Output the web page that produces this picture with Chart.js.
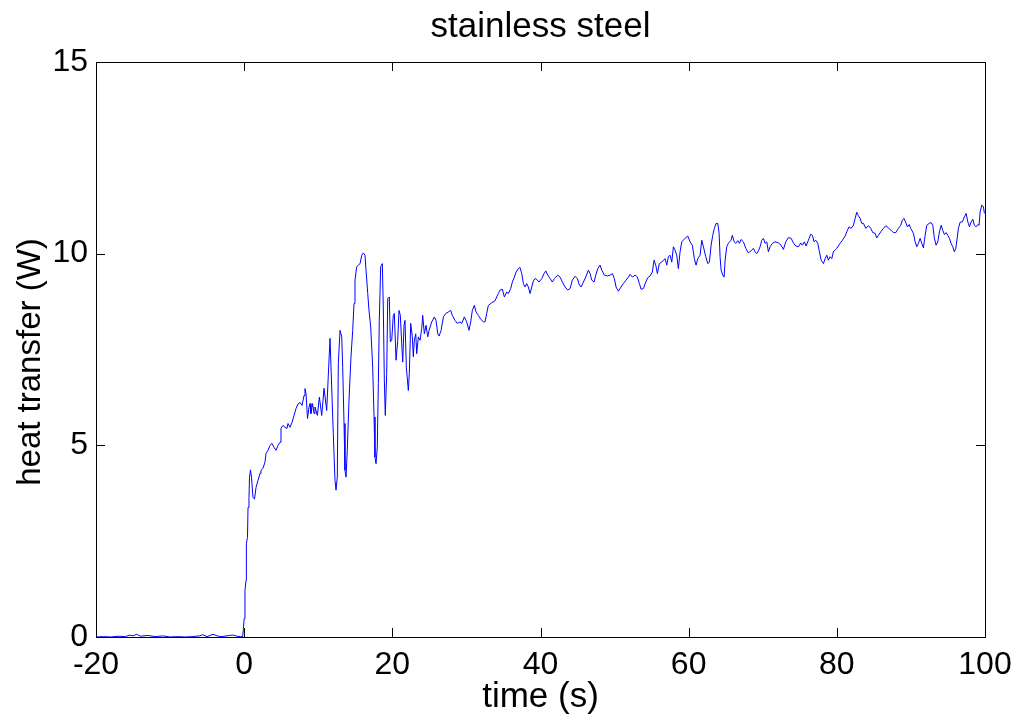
<!DOCTYPE html>
<html>
<head>
<meta charset="utf-8">
<title>stainless steel</title>
<script src="https://cdn.jsdelivr.net/npm/chart.js@4.4.1/dist/chart.umd.min.js"></script>
<style>
	html, body {margin: 0; padding: 0; background: #fff;}
	#chart {display: block;}
</style>
</head>
<body>
<canvas id="chart" width="1027" height="718"></canvas>
<script>
// heat transfer run, stainless steel sample

var chartTitle = 'stainless steel';
var xLabel = 'time (s)';
var yLabel = 'heat transfer (W)';

var xTicks = [-20, 0, 20, 40, 60, 80, 100];
var yTicks = [0, 5, 10, 15];

// time (s)
var time = [
	-20, -19, -18, -17, -16, -15.5, -15, -14.5, -14, -13,
	-12, -11, -10, -9, -8, -7, -6, -5.6, -5, -4.2,
	-3.5, -3, -2, -1.5, -1, -0.5, -0.2, -0.1, 0, 0.11,
	0.25, 0.3, 0.45, 0.52, 0.65, 0.72, 0.85, 0.99, 1.19, 1.4,
	1.6, 1.87, 2.14, 2.27, 2.54, 2.81, 2.95, 3.22, 3.49, 3.76,
	4.03, 4.3, 4.57, 4.84, 4.97, 5.24, 5.51, 5.78, 5.92, 6.19,
	6.46, 6.73, 7.0, 7.27, 7.54, 7.81, 8.08, 8.21, 8.35, 8.55,
	8.75, 8.89, 9.02, 9.23, 9.43, 9.56, 9.88, 10.15, 10.47, 10.78,
	11.14, 11.41, 11.59, 12.03, 12.26, 12.40, 12.57, 12.71, 12.94, 13.17,
	13.30, 13.48, 13.61, 13.75, 13.92, 14.15, 14.42, 14.65, 14.83, 14.96,
	15.19, 15.41, 15.64, 15.87, 16.08, 16.31, 16.45, 16.68, 16.85, 17.08,
	17.35, 17.53, 17.66, 17.80, 17.97, 18.11, 18.24, 18.43, 18.65, 18.78,
	18.92, 19.05, 19.24, 19.38, 19.59, 19.73, 19.92, 20.13, 20.27, 20.50,
	20.73, 20.90, 21.08, 21.27, 21.40, 21.58, 21.71, 21.89, 22.16, 22.29,
	22.48, 22.70, 22.83, 22.97, 23.16, 23.29, 23.51, 23.74, 23.97, 24.10,
	24.32, 24.55, 24.78, 24.96, 25.32, 25.67, 25.90, 26.13, 26.31, 26.58,
	26.89, 27.21, 27.56, 27.88, 28.10, 28.46, 28.77, 29.14, 29.37, 29.72,
	30.04, 30.35, 30.58, 30.80, 31.07, 31.30, 31.61, 31.97, 32.29, 32.51,
	32.74, 32.96, 33.42, 33.86, 34.09, 34.31, 34.54, 34.85, 35.12, 35.44,
	35.66, 35.98, 36.20, 36.47, 36.70, 37.01, 37.24, 37.47, 37.69, 37.92,
	38.14, 38.36, 38.59, 38.82, 39.04, 39.27, 39.49, 39.81, 40.17, 40.48,
	40.71, 40.98, 41.29, 41.60, 41.87, 42.33, 42.64, 42.95, 43.32, 43.68,
	43.99, 44.30, 44.67, 44.98, 45.25, 45.48, 45.79, 46.11, 46.46, 46.69,
	46.92, 47.23, 47.46, 47.73, 48.04, 48.27, 48.62, 49.03, 49.39, 49.70,
	49.97, 50.20, 50.51, 50.87, 51.19, 51.55, 51.86, 52.09, 52.40, 52.77,
	53.08, 53.35, 53.58, 53.89, 54.21, 54.48, 54.79, 55.10, 55.33, 55.56,
	55.78, 56.04, 56.37, 56.59, 56.82, 57.04, 57.26, 57.49, 57.72, 57.94,
	58.17, 58.39, 58.61, 58.84, 59.07, 59.52, 59.88, 60.19, 60.50, 60.77,
	61.00, 61.23, 61.54, 61.77, 61.99, 62.31, 62.58, 62.80, 63.03, 63.25,
	63.47, 63.70, 63.93, 64.11, 64.24, 64.38, 64.60, 64.78, 64.92, 65.14,
	65.36, 65.72, 65.90, 66.13, 66.36, 66.63, 66.85, 67.07, 67.39, 67.71,
	68.06, 68.52, 68.74, 68.97, 69.19, 69.41, 69.64, 69.87, 70.09, 70.32,
	70.54, 70.76, 70.99, 71.30, 71.67, 72.11, 72.48, 72.79, 73.11, 73.46,
	73.83, 74.14, 74.46, 74.81, 75.13, 75.35, 75.62, 75.85, 76.16, 76.48,
	76.70, 76.93, 77.16, 77.43, 77.65, 77.88, 78.19, 78.42, 78.64, 78.86,
	79.09, 79.32, 79.54, 79.99, 80.44, 80.75, 81.12, 81.34, 81.65, 81.92,
	82.24, 82.47, 82.69, 82.91, 83.14, 83.37, 83.59, 83.91, 84.26, 84.58,
	84.85, 85.17, 85.39, 85.61, 85.93, 86.29, 86.61, 86.96, 87.33, 87.64,
	87.96, 88.31, 88.63, 88.85, 89.08, 89.31, 89.53, 89.76, 89.98, 90.34,
	90.57, 90.79, 91.01, 91.24, 91.47, 91.69, 91.92, 92.14, 92.46, 92.73,
	92.95, 93.17, 93.40, 93.63, 93.85, 94.08, 94.30, 94.52, 94.75, 94.98,
	95.20, 95.42, 95.65, 95.87, 96.06, 96.24, 96.41, 96.64, 96.95, 97.22,
	97.45, 97.68, 97.90, 98.13, 98.35, 98.57, 98.80, 99.03, 99.20, 99.34,
	99.57, 99.79, 99.92
];

// heat transfer (W)
var heat = [
	0, 0.01, 0, 0.02, 0.01, 0.05, 0.03, 0.07, 0.02, 0.04,
	0.01, 0.03, 0, 0.01, 0, 0.01, 0.03, 0.06, 0.01, 0.07,
	0.02, 0.01, 0.04, 0.05, 0.02, 0.01, 0.01, 0.22, 0.48, 1.21,
	1.48, 2.44, 2.6, 3.38, 3.64, 4.16, 4.36, 4.17, 3.64, 3.6,
	3.9, 4.09, 4.27, 4.35, 4.4, 4.56, 4.79, 4.87, 5.0, 5.05,
	4.95, 4.87, 5.0, 5.08, 5.44, 5.52, 5.47, 5.44, 5.57, 5.47,
	5.6, 5.78, 5.96, 6.08, 6.12, 6.04, 6.3, 6.48, 6.35, 5.7,
	5.99, 6.09, 5.83, 6.09, 5.83, 6.0, 5.78, 6.26, 5.78, 6.49,
	5.91, 7.04, 7.79, 5.31, 4.09, 3.83, 4.17, 7.13, 8.0, 7.83,
	7.04, 5.57, 4.35, 4.17, 4.87, 6.18, 7.31, 8.0, 8.7, 9.31,
	9.66, 9.7, 9.74, 9.96, 10.02, 9.96, 9.57, 8.96, 8.52, 8.09,
	7.04, 5.74, 4.69, 4.52, 4.96, 6.61, 8.26, 9.66, 9.74, 8.61,
	6.7, 5.78, 6.87, 8.83, 8.87, 7.7, 7.74, 8.39, 8.44, 7.22,
	7.74, 8.52, 8.39, 7.65, 7.17, 8.13, 8.26, 7.04, 6.43, 6.87,
	8.18, 7.83, 7.31, 7.74, 7.91, 7.39, 7.83, 7.74, 8.05, 8.39,
	7.91, 8.13, 7.83, 8.0, 8.22, 8.35, 8.26, 7.91, 7.85, 8.0,
	8.35, 8.44, 8.48, 8.52, 8.39, 8.26, 8.18, 8.22, 8.18, 8.35,
	8.22, 8.0, 8.22, 8.52, 8.65, 8.48, 8.39, 8.28, 8.22, 8.22,
	8.44, 8.65, 8.72, 8.77, 8.87, 8.96, 9.05, 9.07, 8.87, 9.0,
	8.96, 9.09, 9.26, 9.39, 9.52, 9.61, 9.64, 9.48, 9.22, 9.13,
	9.22, 9.13, 8.96, 9.13, 9.29, 9.35, 9.33, 9.26, 9.35, 9.48,
	9.55, 9.44, 9.35, 9.26, 9.35, 9.44, 9.39, 9.26, 9.13, 9.05,
	9.09, 9.31, 9.41, 9.35, 9.18, 9.13, 9.26, 9.39, 9.57, 9.48,
	9.31, 9.26, 9.44, 9.61, 9.7, 9.57, 9.44, 9.42, 9.44, 9.48,
	9.35, 9.13, 9.02, 9.13, 9.22, 9.31, 9.39, 9.46, 9.39, 9.44,
	9.39, 9.22, 9.07, 9.09, 9.26, 9.37, 9.42, 9.52, 9.83, 9.7,
	9.48, 9.74, 9.78, 9.83, 9.87, 9.7, 9.92, 9.96, 9.78, 10.18,
	10.09, 9.96, 9.61, 10.05, 10.31, 10.4, 10.46, 10.31, 10.22, 9.87,
	9.7, 9.87, 9.96, 10.35, 10.18, 9.92, 9.74, 9.78, 10.22, 10.48,
	10.66, 10.79, 10.79, 10.53, 9.92, 9.57, 9.44, 9.39, 9.83, 10.18,
	10.27, 10.35, 10.48, 10.31, 10.27, 10.34, 10.27, 10.37, 10.31, 10.14,
	10.02, 10.09, 10.14, 10.05, 10.0, 10.07, 10.18, 10.35, 10.4, 10.27,
	10.31, 10.05, 10.18, 10.27, 10.31, 10.28, 10.22, 10.11, 10.31, 10.42,
	10.4, 10.28, 10.2, 10.18, 10.28, 10.22, 10.31, 10.2, 10.35, 10.51,
	10.48, 10.31, 10.35, 10.27, 10.05, 9.83, 9.74, 9.87, 9.96, 9.83,
	9.92, 9.87, 10.05, 10.14, 10.27, 10.35, 10.46, 10.57, 10.7, 10.66,
	10.74, 10.92, 11.08, 10.99, 10.92, 10.79, 10.79, 10.66, 10.73, 10.66,
	10.55, 10.53, 10.41, 10.48, 10.57, 10.66, 10.73, 10.67, 10.61, 10.55,
	10.55, 10.66, 10.74, 10.88, 10.92, 10.81, 10.7, 10.76, 10.66, 10.53,
	10.31, 10.18, 10.27, 10.4, 10.27, 10.15, 10.48, 10.74, 10.79, 10.81,
	10.74, 10.4, 10.22, 10.31, 10.57, 10.74, 10.61, 10.5, 10.55, 10.48,
	10.4, 10.27, 10.18, 10.05, 10.14, 10.4, 10.66, 10.82, 10.83, 10.96,
	11.05, 10.83, 10.7, 10.83, 10.9, 10.74, 10.7, 10.76, 10.74, 11.09,
	11.27, 11.22, 11.05
];

var fontFamily = '"Liberation Sans", Arial, Helvetica, sans-serif';
Chart.defaults.font.family = fontFamily;
Chart.defaults.color = '#000';

var points = _map(time, function (t, i) {return {x: t, y: heat[i]}});

function _map(list, fn)
{
	var out = [];
	for (var i = 0; i < list.length; i++) {out.push(fn(list[i], i))}
	return out;
}

// box round the plot area with ticks pointing inwards on all four sides,
// plus the rotated y axis caption
var axesBox =
{
	id: 'axesBox',
	afterDatasetsDraw: function (chart)
	{
		var ctx = chart.ctx;
		var area = chart.chartArea;
		var xScale = chart.scales.x;
		var yScale = chart.scales.y;
		var tickLen = 9;

		ctx.save();
		ctx.strokeStyle = '#000';
		ctx.lineWidth = 1;
		ctx.strokeRect(Math.round(area.left) + 0.5, Math.round(area.top) + 0.5,
			Math.round(area.right - area.left), Math.round(area.bottom - area.top));

		ctx.beginPath();
		xTicks.forEach(function (value)
		{
			var px = Math.round(xScale.getPixelForValue(value)) + 0.5;
			ctx.moveTo(px, area.bottom);
			ctx.lineTo(px, area.bottom - tickLen);
			ctx.moveTo(px, area.top);
			ctx.lineTo(px, area.top + tickLen);
		});
		yTicks.forEach(function (value)
		{
			var py = Math.round(yScale.getPixelForValue(value)) + 0.5;
			ctx.moveTo(area.left, py);
			ctx.lineTo(area.left + tickLen, py);
			ctx.moveTo(area.right, py);
			ctx.lineTo(area.right - tickLen, py);
		});
		ctx.stroke();

		ctx.translate(31, 362);
		ctx.rotate(-Math.PI / 2);
		ctx.fillStyle = '#000';
		ctx.font = '33px ' + fontFamily;
		ctx.textAlign = 'center';
		ctx.textBaseline = 'middle';
		ctx.fillText(yLabel, 0, 0);
		ctx.restore();
	}
};

function fixedTicks(values)
{
	return function (scale)
	{
		scale.ticks = values.map(function (v) {return {value: v}});
	};
}

var chart = new Chart(document.getElementById('chart'),
{
	type: 'line',
	data:
	{
		datasets:
		[
			{
				label: yLabel,
				data: points,
				borderColor: '#0000ff',
				borderWidth: 1,
				pointRadius: 0,
				tension: 0,
				fill: false
			}
		]
	},
	options:
	{
		responsive: false,
		animation: false,
		events: [],
		layout:
		{
			padding: {left: 0, right: 42, top: 0, bottom: 0}
		},
		plugins:
		{
			legend: {display: false},
			tooltip: {enabled: false},
			title:
			{
				display: true,
				fullSize: false,
				text: chartTitle,
				color: '#000',
				font: {size: 35, weight: 'normal'},
				padding: {top: 6, bottom: 14}
			}
		},
		scales:
		{
			x:
			{
				type: 'linear',
				min: -20,
				max: 100,
				afterBuildTicks: fixedTicks(xTicks),
				grid: {display: false, drawTicks: false},
				border: {display: false},
				ticks: {color: '#000', font: {size: 32}, padding: 9, maxRotation: 0, autoSkip: false},
				title:
				{
					display: true,
					text: xLabel,
					color: '#000',
					font: {size: 35},
					padding: {top: 0, bottom: 0}
				},
				afterFit: function (scale) {scale.height = 81}
			},
			y:
			{
				type: 'linear',
				min: 0,
				max: 15,
				afterBuildTicks: fixedTicks(yTicks),
				grid: {display: false, drawTicks: false},
				border: {display: false},
				ticks: {color: '#000', font: {size: 32}, padding: 8, autoSkip: false},
				title: {display: false},
				afterFit: function (scale) {scale.width = 96}
			}
		}
	},
	plugins: [axesBox]
});
</script>
</body>
</html>
